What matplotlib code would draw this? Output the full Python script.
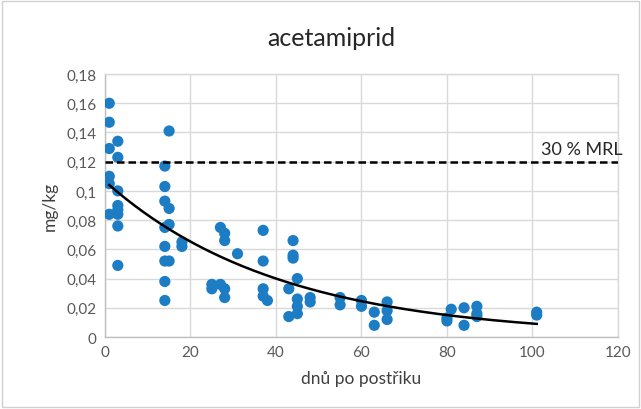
import numpy as np
import matplotlib
matplotlib.use("Agg")
import matplotlib.pyplot as plt
from matplotlib.patches import Rectangle

plt.rcParams['font.family'] = ['Lato', 'DejaVu Sans']

# residue measurements: days after spraying and residue (mg/kg)
days = [1, 1, 1, 1, 1, 1,
        3, 3, 3, 3, 3, 3, 3, 3,
        14, 14, 14, 14, 14, 14, 14, 14,
        15, 15, 15, 15,
        18, 18,
        25, 25,
        27, 27,
        28, 28, 28, 28,
        31,
        37, 37, 37, 37,
        38,
        43, 43,
        44, 44, 44,
        45, 45, 45, 45,
        48, 48,
        55, 55,
        60, 60,
        63, 63,
        66, 66, 66,
        80, 80,
        81,
        84, 84,
        87, 87, 87,
        101, 101]
residue = [0.160, 0.147, 0.129, 0.110, 0.105, 0.084,
           0.134, 0.123, 0.100, 0.090, 0.087, 0.084, 0.076, 0.049,
           0.117, 0.103, 0.093, 0.075, 0.062, 0.052, 0.038, 0.025,
           0.141, 0.088, 0.077, 0.052,
           0.065, 0.062,
           0.036, 0.033,
           0.075, 0.036,
           0.071, 0.066, 0.033, 0.027,
           0.057,
           0.073, 0.052, 0.033, 0.028,
           0.025,
           0.033, 0.014,
           0.066, 0.056, 0.054,
           0.040, 0.026, 0.021, 0.016,
           0.027, 0.024,
           0.027, 0.022,
           0.025, 0.021,
           0.017, 0.008,
           0.024, 0.018, 0.012,
           0.011, 0.013,
           0.019,
           0.020, 0.008,
           0.021, 0.016, 0.014,
           0.017, 0.015]

# exponential trend y = a * exp(-b * x)
trend_a = 0.1066
trend_b = 0.0245
trend_range = (1, 101)

mrl_level = 0.12
mrl_label = "30 % MRL"

x_ticks = [0, 20, 40, 60, 80, 100, 120]
y_ticks = [0, 0.02, 0.04, 0.06, 0.08, 0.1, 0.12, 0.14, 0.16, 0.18]
y_tick_labels = ["0", "0,02", "0,04", "0,06", "0,08", "0,1", "0,12", "0,14", "0,16", "0,18"]

fig = plt.figure(figsize=(6.41, 4.10), dpi=100)
ax = fig.add_axes([0.1638, 0.1756, 0.8002, 0.6414])

grid_c = '#d9d9d9'
text_c = '#595959'

ax.set_xlim(0, 120)
ax.set_ylim(0, 0.18)
ax.set_xticks(x_ticks)
ax.set_yticks(y_ticks)
ax.set_yticklabels(y_tick_labels)
ax.grid(True, color=grid_c, linewidth=1.0)
ax.set_axisbelow(True)
for s in ax.spines.values():
    s.set_color(grid_c)
    s.set_linewidth(1.0)
ax.spines['left'].set_color('#bfbfbf')
ax.spines['bottom'].set_color('#bfbfbf')
ax.tick_params(length=0, labelsize=11, colors=text_c, pad=6)

ax.scatter(days, residue, s=65, color='#1c7cc4', edgecolors='none', zorder=3)

tx = np.linspace(trend_range[0], trend_range[1], 200)
ax.plot(tx, trend_a * np.exp(-trend_b * tx), color='black', linewidth=1.8, zorder=4)

ax.plot([0, 120], [mrl_level, mrl_level], color='black', linewidth=1.8,
        linestyle=(0, (3, 1.6)), zorder=4)
ax.text(102, mrl_level + 0.0035, mrl_label, fontsize=13, color='#262626',
        ha='left', va='bottom')

fig.text(0.517, 0.907, "acetamiprid", fontsize=18, color='#262626',
         ha='center', va='center')
ax.set_xlabel("dnů po postřiku", fontsize=12.5, color='#404040', labelpad=8)
ax.set_ylabel("mg/kg", fontsize=12.5, color='#404040', labelpad=6)

# chart-area border
fig.patches.append(Rectangle((0.003, 0.004), 0.994, 0.992, transform=fig.transFigure,
                             fill=False, edgecolor='#d0d0d0', linewidth=1.0))

fig.savefig("out.png", dpi=100)
